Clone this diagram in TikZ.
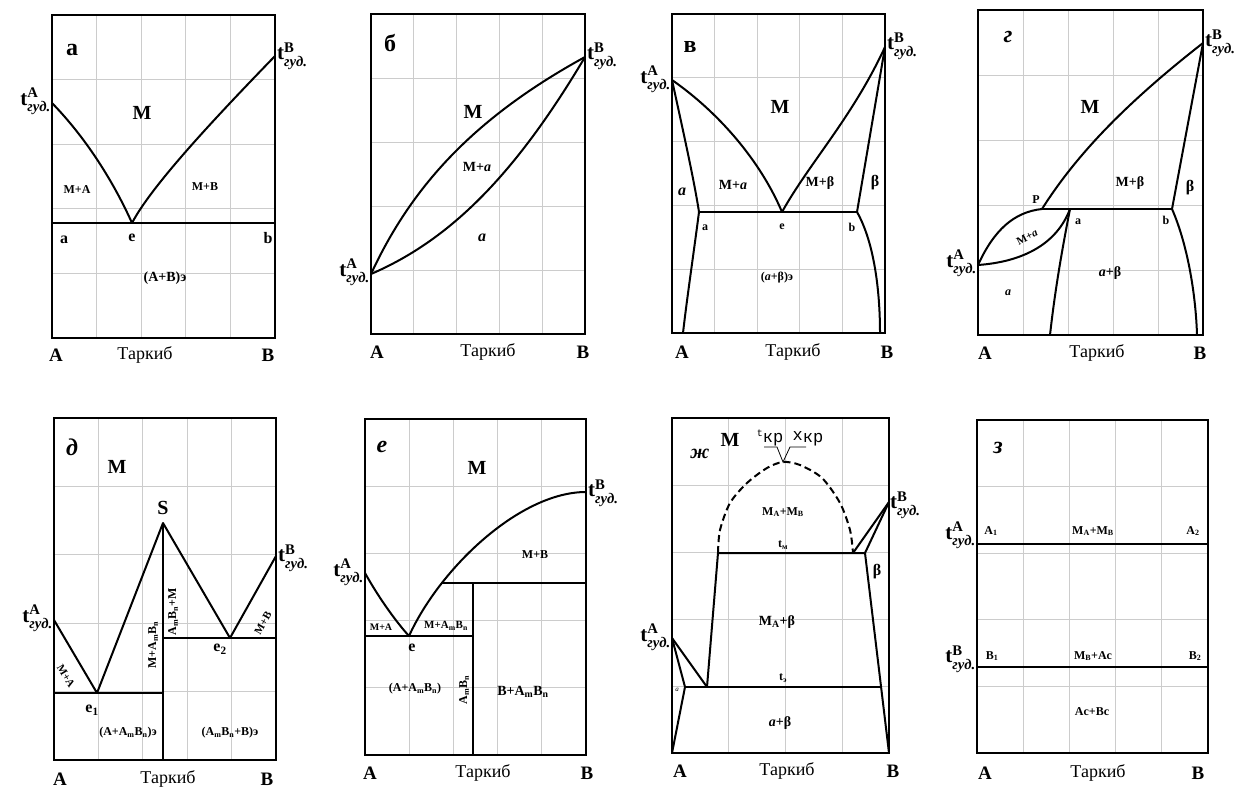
\documentclass[tikz,border=0pt]{standalone}
\usepackage{amsmath}
\usepackage{fontspec}
\setmainfont{Liberation Serif}
\newfontfamily\monof{Liberation Mono}
\newcommand{\tz}[1]{$\text{\bfseries t}^{\text{\bfseries #1}}_{\text{\bfseries\itshape гуд.}}$}
\newcommand{\AmBn}{A\textsubscript{m}B\textsubscript{n}}
\newcommand{\phgrid}[6]{%
  \foreach \gx in {#5}{\draw[gridl] (\gx,#2) -- (\gx,#4);}
  \foreach \gy in {#6}{\draw[gridl] (#1,\gy) -- (#3,\gy);}
  \draw[frame] (#1,#2) rectangle (#3,#4);
}
\begin{document}
\begin{tikzpicture}[x=1pt,y=-1pt,
  gridl/.style={draw=black!20, line width=1pt},
  frame/.style={draw=black, line width=1.6pt},
  ph/.style={draw=black, line width=2pt, line join=round},
  thinl/.style={draw=black, line width=0.8pt},
  plet/.style={font=\fontsize{24}{26}\selectfont\bfseries, inner sep=0pt},
  pleti/.style={font=\fontsize{24}{26}\selectfont\bfseries\itshape, inner sep=0pt},
  axl/.style={font=\fontsize{19}{21}\selectfont\bfseries, inner sep=0pt},
  axt/.style={font=\fontsize{18}{20}\selectfont, inner sep=0pt},
  bigm/.style={font=\fontsize{20}{22}\selectfont\bfseries, inner sep=0pt},
  sm/.style={font=\fontsize{12}{14}\selectfont\bfseries, inner sep=0pt},
  md/.style={font=\fontsize{14}{16}\selectfont\bfseries, inner sep=0pt},
  pt/.style={font=\fontsize{16}{18}\selectfont\bfseries, inner sep=0pt},
  tl/.style={font=\fontsize{21}{24}\selectfont, inner sep=0pt},
]
\useasboundingbox (0,0) rectangle (1247,787);

% ---------------- panel a
\phgrid{52}{15}{275}{338}{96.6,141.2,185.8,230.4}{79.6,144.2,208.8,273.4}
\coordinate (aTA) at (52,103);
\coordinate (aTB) at (275,56);
\coordinate (aE) at (132,223);
\draw[ph] (52,223) -- (275,223);
\draw[ph] (aTA) .. controls (88,140) and (115,185) .. (aE);
\draw[ph] (aE) .. controls (152,185) and (215,118) .. (aTB);
\node[tl,anchor=east] (aTAl) at (51,101) {\tz{A}};
\node[tl,anchor=west] (aTBl) at (277,56) {\tz{B}};
\node[plet] (aLet) at (72,50) {а};
\node[bigm] (aM) at (142,113) {М};
\node[sm] (aMA) at (77,190) {М+А};
\node[sm] (aMB) at (205,187) {М+В};
\node[pt] (aa) at (64,240) {a};
\node[pt] (ae) at (132,238) {e};
\node[pt] (ab) at (268,238) {b};
\node[md] (aAB) at (165,278) {(А+В)э};
\node[axl] (aA) at (56,355) {A};
\node[axt] (aT) at (145,355) {Таркиб};
\node[axl] (aB) at (268,355) {B};

% ---------------- panel b
\phgrid{371}{14}{585}{334}{413.8,456.6,499.4,542.2}{78,142,206,270}
\coordinate (bTA) at (371,274);
\coordinate (bTB) at (585,57);
\draw[ph] (bTA) .. controls (410,190) and (470,120) .. (bTB);
\draw[ph] (bTA) .. controls (450,240) and (515,175) .. (bTB);
\node[tl,anchor=east] (bTAl) at (370,272) {\tz{A}};
\node[tl,anchor=west] (bTBl) at (587,56) {\tz{B}};
\node[plet] (bLet) at (390,43) {б};
\node[bigm] (bM) at (473,112) {М};
\node[md] (bMa) at (477,167) {М+\textit{а}};
\node[pt] (ba) at (482,238) {\textit{а}};
\node[axl] (bA) at (377,352) {A};
\node[axt] (bT) at (488,352) {Таркиб};
\node[axl] (bB) at (583,352) {B};

% ---------------- panel v
\phgrid{672}{14}{885}{333}{714.6,757.2,799.8,842.4}{77.8,141.6,205.4,269.2}
\coordinate (vTA) at (672,80);
\coordinate (vTB) at (885,47);
\coordinate (vA) at (699,212);
\coordinate (vE) at (782,212);
\coordinate (vB) at (857,212);
\draw[ph] (vA) -- (vB);
\draw[ph] (vTA) .. controls (718,112) and (760,160) .. (vE);
\draw[ph] (vE) .. controls (810,162) and (852,118) .. (vTB);
\draw[ph] (vTA) .. controls (684,135) and (694,180) .. (vA);
\draw[ph] (vA) .. controls (693,258) and (687,298) .. (683,333);
\draw[ph] (vTB) -- (vB);
\draw[ph] (vB) .. controls (874,242) and (880,290) .. (880,333);
\node[tl,anchor=east] (vTAl) at (671,79) {\tz{A}};
\node[tl,anchor=west] (vTBl) at (887,46) {\tz{B}};
\node[plet] (vLet) at (690,47) {в};
\node[bigm] (vM) at (780,107) {М};
\node[pt] (va) at (682,192) {\textit{а}};
\node[md] (vMa) at (733,185) {М+\textit{а}};
\node[md] (vMb) at (820,183) {М+β};
\node[pt] (vb) at (875,183) {β};
\node[sm] (vpa) at (705,228) {a};
\node[sm] (vpe) at (782,227) {e};
\node[sm] (vpb) at (852,227) {b};
\node[sm] (vab) at (777,278) {(\textit{а}+β)э};
\node[axl] (vAl) at (682,352) {A};
\node[axt] (vT) at (793,352) {Таркиб};
\node[axl] (vBl) at (887,352) {B};

% ---------------- panel g
\phgrid{978}{10}{1203}{335}{1023,1068,1113,1158}{75,140,205,270}
\coordinate (gTA) at (978,265);
\coordinate (gTB) at (1203,43);
\coordinate (gP) at (1042,209);
\coordinate (gA) at (1070,209);
\coordinate (gB) at (1172,209);
\draw[ph] (gP) -- (gB);
\draw[ph] (gP) .. controls (1078,152) and (1130,100) .. (gTB);
\draw[ph] (gTA) .. controls (994,230) and (1014,212) .. (gP);
\draw[ph] (gTA) .. controls (1020,262) and (1056,246) .. (gA);
\draw[ph] (gA) .. controls (1062,250) and (1055,290) .. (1050,335);
\draw[ph] (gTB) -- (gB);
\draw[ph] (gB) .. controls (1189,248) and (1196,300) .. (1197,335);
\node[tl,anchor=east] (gTAl) at (977,263) {\tz{A}};
\node[tl,anchor=west] (gTBl) at (1205,43) {\tz{B}};
\node[pleti] (gLet) at (1008,37) {г};
\node[bigm] (gM) at (1090,107) {М};
\node[md] (gMb) at (1130,183) {М+β};
\node[pt] (gb) at (1190,188) {β};
\node[sm] (gPl) at (1036,200) {P};
\node[sm] (gpa) at (1078,222) {a};
\node[sm] (gpb) at (1166,220) {b};
\node[sm,font=\fontsize{11}{12}\selectfont\bfseries,rotate=27] (gMa) at (1027,237) {М+\textit{а}};
\node[md] (gab) at (1110,273) {\textit{а}+β};
\node[sm] (ga) at (1008,293) {\textit{а}};
\node[axl] (gAl) at (985,353) {A};
\node[axt] (gT) at (1097,353) {Таркиб};
\node[axl] (gBl) at (1200,353) {B};

% ---------------- panel d
\phgrid{54}{418}{276}{760}{98.4,142.8,187.2,231.6}{486.4,554.8,623.2,691.6}
\coordinate (dTA) at (54,620);
\coordinate (dE1) at (97,693);
\coordinate (dS) at (163,523);
\coordinate (dE2) at (230,638);
\coordinate (dTB) at (276,556);
\draw[ph] (dTA) -- (dE1) -- (dS) -- (dE2) -- (dTB);
\draw[ph] (54,693) -- (163,693);
\draw[ph] (dS) -- (163,760);
\draw[ph] (163,638) -- (276,638);
\node[tl,anchor=east] (dTAl) at (53,618) {\tz{A}};
\node[tl,anchor=west] (dTBl) at (278,558) {\tz{B}};
\node[pleti] (dLet) at (72,447) {д};
\node[bigm] (dM) at (117,467) {М};
\node[bigm] (dSl) at (163,508) {S};
\node[sm,font=\fontsize{11}{12}\selectfont\bfseries,rotate=-59] (dMA) at (66,676) {М+А};
\node[sm,rotate=90] (dMAB) at (153,645) {М+\AmBn};
\node[sm,rotate=90] (dABM) at (173,612) {\AmBn+М};
\node[sm,font=\fontsize{11}{12}\selectfont\bfseries,rotate=60] (dMB) at (263,623) {М+В};
\node[pt] (de1) at (92,710) {e\textsubscript{1}};
\node[pt] (de2) at (220,649) {e\textsubscript{2}};
\node[sm] (dAAB) at (128,733) {(А+\AmBn)э};
\node[sm] (dABB) at (230,733) {(\AmBn+В)э};
\node[axl] (dA) at (60,779) {A};
\node[axt] (dT) at (168,779) {Таркиб};
\node[axl] (dB) at (267,779) {B};

% ---------------- panel e
\phgrid{365}{419}{586}{755}{409.2,453.4,497.6,541.8}{486.2,553.4,620.6,687.8}
\coordinate (eTA) at (365,573);
\coordinate (eTB) at (586,492);
\coordinate (eE) at (409,636);
\draw[ph] (eTA) .. controls (380,600) and (398,624) .. (eE);
\draw[ph] (eE) .. controls (440,568) and (520,492) .. (eTB);
\draw[ph] (365,636) -- (473,636);
\draw[ph] (473,583) -- (473,755);
\draw[ph] (442,583) -- (586,583);
\node[tl,anchor=east] (eTAl) at (364,572) {\tz{A}};
\node[tl,anchor=west] (eTBl) at (588,493) {\tz{B}};
\node[pleti] (eLet) at (382,447) {е};
\node[bigm] (eM) at (477,468) {М};
\node[sm] (eMB) at (535,555) {М+В};
\node[sm,font=\fontsize{10}{12}\selectfont\bfseries] (eMA) at (381,627) {М+А};
\node[sm,font=\fontsize{11}{12}\selectfont\bfseries] (eMAB) at (446,626) {М+\AmBn};
\node[pt] (ee) at (412,648) {e};
\node[sm] (eAAB) at (415,689) {(А+\AmBn)};
\node[sm,rotate=90] (eAB) at (464,690) {\AmBn};
\node[md] (eBAB) at (523,692) {В+\AmBn};
\node[axl] (eA) at (370,773) {A};
\node[axt] (eT) at (483,773) {Таркиб};
\node[axl] (eB) at (587,773) {B};

% ---------------- panel zh
\phgrid{672}{418}{889}{753}{728,785,842}{485,552,619,686}
\coordinate (zTA) at (672,638);
\coordinate (zP1) at (685,687);
\coordinate (zP2) at (707,687);
\coordinate (zP3) at (718,553);
\coordinate (zP4) at (853,553);
\coordinate (zP5) at (865,553);
\coordinate (zP6) at (880,687);
\coordinate (zTB) at (889,502);
\coordinate (zK) at (783,462);
\draw[ph] (zTA) -- (zP1) -- (672,753);
\draw[ph] (zTA) -- (zP2) -- (zP3) -- (zP5) -- (889,753);
\draw[ph] (zP1) -- (zP6);
\draw[ph] (zTB) -- (zP4);
\draw[ph] (zTB) -- (zP5);
\draw[ph,dash pattern=on 7pt off 4pt] plot[smooth] coordinates {(718,553) (720,530) (730,503) (747,483) (767,468) (783,462) (800,465) (822,478) (840,503) (850,530) (853,553)};
\draw[thinl] (764,447) -- (777,447) -- (zK) -- (790,447) -- (806,447);
\node[tl,anchor=east] (zTAl) at (671,637) {\tz{A}};
\node[tl,anchor=west] (zTBl) at (890,505) {\tz{B}};
\node[pleti,font=\fontsize{20}{22}\selectfont\bfseries\itshape] (zLet) at (700,454) {ж};
\node[bigm] (zM) at (730,440) {М};
\node[inner sep=0pt,font=\monof\fontsize{17}{18}\selectfont,anchor=base] (ztk) at (770,440) {\raisebox{4pt}{\fontsize{10}{10}\selectfont t}\raisebox{-2pt}{кр}};
\node[inner sep=0pt,font=\monof\fontsize{17}{18}\selectfont,anchor=base] (zxk) at (808,440) {x\raisebox{-2pt}{кр}};
\node[sm] (zMM) at (783,512) {М\textsubscript{A}+М\textsubscript{B}};
\node[sm] (ztm) at (783,545) {t\textsubscript{м}};
\node[pt] (zb) at (877,572) {β};
\node[md] (zMb) at (777,622) {М\textsubscript{A}+β};
\node[sm] (zte) at (783,678) {t\textsubscript{э}};
\node[md] (zab) at (780,723) {\textit{а}+β};
\node[sm,font=\fontsize{7}{8}\selectfont\itshape] (za) at (677,690) {а};
\node[axl] (zA) at (680,771) {A};
\node[axt] (zT) at (787,771) {Таркиб};
\node[axl] (zB) at (893,771) {B};

% ---------------- panel z
\phgrid{977}{420}{1208}{753}{1023.2,1069.4,1115.6,1161.8}{486.6,553.2,619.8,686.4}
\draw[ph] (977,544) -- (1208,544);
\draw[ph] (977,667) -- (1208,667);
\node[tl,anchor=east] (hTAl) at (976,535) {\tz{A}};
\node[tl,anchor=east] (hTBl) at (976,659) {\tz{B}};
\node[pleti] (hLet) at (998,448) {з};
\node[sm] (hA1) at (991,531) {A\textsubscript{1}};
\node[sm] (hMM) at (1093,531) {М\textsubscript{A}+М\textsubscript{B}};
\node[sm] (hA2) at (1193,531) {A\textsubscript{2}};
\node[sm] (hB1) at (992,656) {B\textsubscript{1}};
\node[sm] (hMA) at (1093,656) {М\textsubscript{B}+Ac};
\node[sm] (hB2) at (1195,656) {B\textsubscript{2}};
\node[sm] (hAB) at (1092,712) {Ac+Bc};
\node[axl] (hA) at (985,773) {A};
\node[axt] (hT) at (1098,773) {Таркиб};
\node[axl] (hB) at (1198,773) {B};
\end{tikzpicture}
\end{document}
